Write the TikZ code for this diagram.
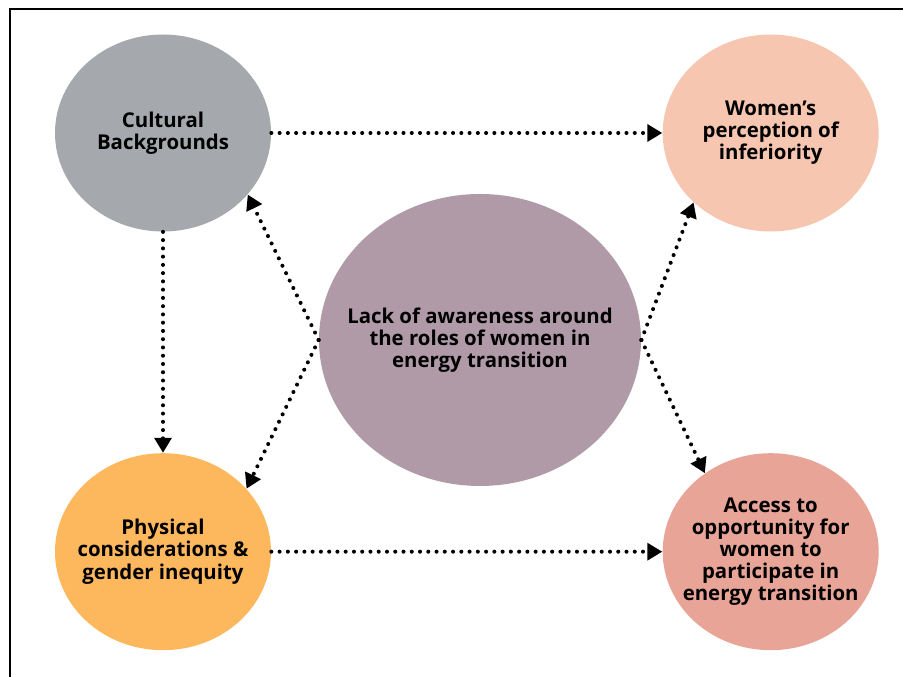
\documentclass[tikz,border=0pt]{standalone}
\usepackage{fontspec}
\setmainfont{Open Sans}
\usepackage{tikz}
\usetikzlibrary{positioning, shapes.geometric, arrows.meta}

\definecolor{cultgray}{RGB}{165,169,174}
\definecolor{womenpeach}{RGB}{247,198,176}
\definecolor{physorange}{RGB}{253,184,94}
\definecolor{accessrose}{RGB}{232,164,151}
\definecolor{lackmauve}{RGB}{176,154,168}

\begin{document}
\begin{tikzpicture}[
    factor/.style={ellipse, inner sep=-40pt, minimum width=4.32cm, minimum height=3.94cm, align=center, font=\fontsize{11.6}{12.6}\selectfont\bfseries},
    core/.style={factor, minimum width=6.44cm, minimum height=5.84cm},
    flow/.style={-{Triangle[length=8.5pt,width=9.5pt]}, line width=2.3pt, line cap=round, dash pattern=on 0pt off 4.7pt}
]
\clip (0,0) rectangle (18.06,13.54);

% Frame
\draw[line width=1.1pt] (0.2,-1) -- (0.2,13.36) -- (19,13.36);

% Outer factors
\node[factor, fill=cultgray] (cult) at (3.26,10.88) {Cultural\\Backgrounds};
\node[factor, fill=womenpeach, right=7.82cm of cult] (women) {Women's\\perception of\\inferiority};
\node[factor, fill=physorange, below=4.42cm of cult] (phys) {Physical\\considerations \&\\gender inequity};
\node[factor, fill=accessrose, right=7.82cm of phys] (access) {Access to\\opportunity for\\women to\\participate in\\energy transition};

% Central cause
\node[core, fill=lackmauve] (lack) at (9.6,6.74) {Lack of awareness around\\the roles of women in\\energy transition};

% Flows
\draw[flow] (cult) -- (women);
\draw[flow] (phys) -- (access);
\draw[flow] (cult) -- (phys);
\draw[flow] (lack.west) -- (cult.-36);
\draw[flow] (lack.west) -- (phys.37);
\draw[flow] (lack.east) -- (women.222);
\draw[flow] (lack.east) -- (access.130);

\end{tikzpicture}
\end{document}
